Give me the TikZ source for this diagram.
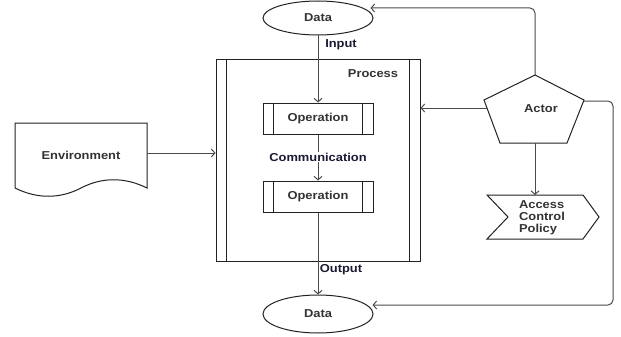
\documentclass[tikz,border=0pt]{standalone}
\usepackage{fontspec}
\setmainfont[FakeStretch=1.12]{Liberation Sans}
\usetikzlibrary{shapes.geometric,arrows.meta,calc}
\definecolor{shp}{HTML}{222222}
\definecolor{con}{HTML}{4A4A4A}
\definecolor{txt}{HTML}{333333}
\definecolor{lbl}{HTML}{1A1A33}
\begin{document}
\begin{tikzpicture}[x=1pt,y=-1pt,
  font=\fontsize{11.5}{12}\selectfont\bfseries,
  shapeline/.style={draw=shp,line width=1pt},
  ellnode/.style={shapeline,ellipse,minimum width=110pt,minimum height=34pt,inner sep=0pt,text=txt},
  opbox/.style={shapeline,rectangle,minimum width=110pt,minimum height=31pt,inner sep=0pt,text=txt},
  conn/.style={draw=con,line width=1pt,-{Straight Barb[length=3.5pt,width=8pt]}},
  lbltext/.style={text=lbl,inner sep=1pt}]
\useasboundingbox (0,0) rectangle (621,337);
% Data ellipses
\node[ellnode] (d1) at (318,18) {Data};
\node[ellnode,minimum height=38pt] (d2) at (318,314) {Data};
% Process box
\node[shapeline,rectangle,minimum width=204pt,minimum height=201pt,inner sep=0pt] (proc) at (318,160.5) {};
\draw[shapeline] ([xshift=11pt]proc.north west) -- ([xshift=11pt]proc.south west);
\draw[shapeline] ([xshift=-11pt]proc.north east) -- ([xshift=-11pt]proc.south east);
\node[text=txt,inner sep=0pt] (plabel) at (373,74) {Process};
% Operations
\node[opbox] (op1) at (318,118.5) {Operation};
\draw[shapeline] ([xshift=11pt]op1.north west) -- ([xshift=11pt]op1.south west);
\draw[shapeline] ([xshift=-11pt]op1.north east) -- ([xshift=-11pt]op1.south east);
\node[opbox] (op2) at (318,196.5) {Operation};
\draw[shapeline] ([xshift=11pt]op2.north west) -- ([xshift=11pt]op2.south west);
\draw[shapeline] ([xshift=-11pt]op2.north east) -- ([xshift=-11pt]op2.south east);
% Environment (document shape)
\draw[shapeline,fill=white] (15,123) -- (147,123) -- (147,188)
  .. controls (125,177) and (102,177) .. (81,188)
  .. controls (60,199) and (37,199) .. (15,188) -- cycle;
\node[text=txt,inner sep=0pt] (env) at (81,155) {Environment};
\coordinate (envE) at (147,153);
% Actor pentagon
\draw[shapeline] (535,75) -- (584,100) -- (567,143) -- (500,143) -- (484,100) -- cycle;
\node[text=txt,inner sep=0pt] (actor) at (541,109) {Actor};
\coordinate (actTop) at (535,75);
\coordinate (actLeft) at (487,108);
\coordinate (actRight) at (584,101);
\coordinate (actBot) at (535,143);
% Access Control Policy
\draw[shapeline] (487,195) -- (583,195) -- (599,217) -- (583,239) -- (487,239) -- (508,217) -- cycle;
\node[text=txt,inner sep=0pt,align=left] (acp) at (542,218) {Access\\Control\\Policy};
\coordinate (acpTop) at (535,195);
% Connectors
\draw[conn] (d1.south) -- (op1.north);
\node[lbltext] (inlbl) at (341,45) {Input};
\draw[conn] (op1.south) -- (op2.north);
\node[lbltext,fill=white] (comlbl) at (318,157) {Communication};
\draw[conn] (op2.south) -- (d2.north);
\node[lbltext,fill=white] (outlbl) at (341,270) {Output};
\draw[conn] (envE) -- (envE -| proc.west);
\draw[conn] (actLeft) -- (actLeft -| proc.east);
\draw[conn] (actBot) -- (acpTop);
\draw[conn,rounded corners=5pt] (actTop) -- (actTop |- 0,8) -- ($(d1.east)+(-3,-10)$);
\draw[conn,rounded corners=5pt] (actRight) -- (613,101) -- (613,305) -- ($(d2.east)+(-1,-9)$);
\end{tikzpicture}
\end{document}
